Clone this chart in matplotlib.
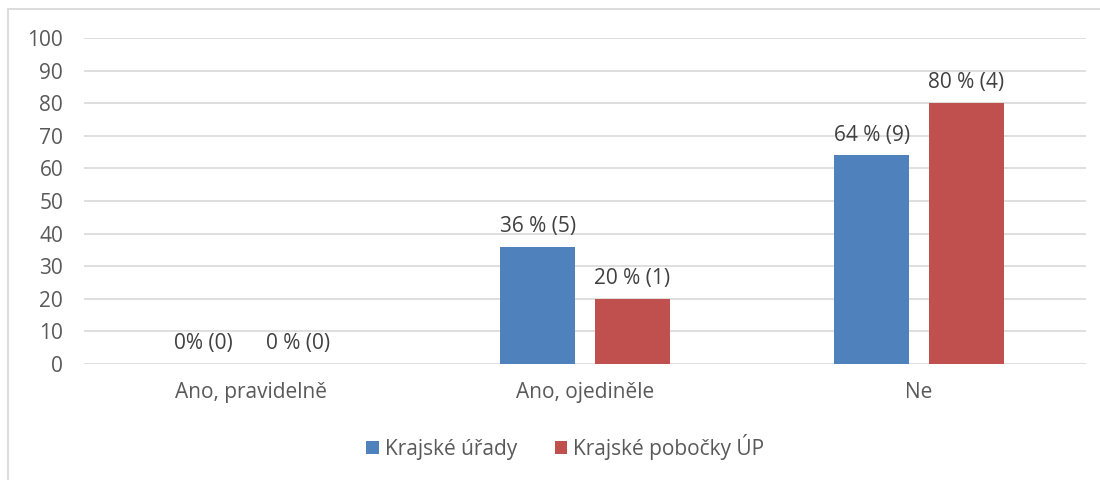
import matplotlib
matplotlib.use("Agg")
import matplotlib.pyplot as plt          # noqa: E402
from matplotlib.patches import Rectangle  # noqa: E402
import numpy as np                       # noqa: E402

categories = ["Ano, pravidelně", "Ano, ojediněle", "Ne"]
series = ["Krajské úřady", "Krajské pobočky ÚP"]
kraj_urady = [0, 36, 64]
kraj_pobocky = [0, 20, 80]
labels_urady = ["0% (0)", "36 % (5)", "64 % (9)"]
labels_pobocky = ["0 % (0)", "20 % (1)", "80 % (4)"]

plt.rcParams["font.family"] = ["Open Sans", "DejaVu Sans"]
FS = 15

fig = plt.figure(figsize=(11, 4.8), dpi=100)
# chart frame
fig.patches.append(Rectangle((8 / 1100, -0.1), 1.2, 1.1 - 9 / 480,
                             transform=fig.transFigure, fill=False,
                             edgecolor="#D9D9D9", lw=1.3))

ax = fig.add_axes([84 / 1100, 116 / 480, 1002 / 1100, 326 / 480])
x = np.arange(len(categories))
w, off = 0.225, 0.142
colors = ["#4F81BD", "#C0504D"]
for vals, labs, dx, col, name in [(kraj_urady, labels_urady, -off, colors[0], series[0]),
                                  (kraj_pobocky, labels_pobocky, off, colors[1], series[1])]:
    bars = ax.bar(x + dx, vals, w, color=col, label=name, zorder=3)
    for b, lab in zip(bars, labs):
        ax.annotate(lab, (b.get_x() + b.get_width() / 2, b.get_height()),
                    xytext=(0, 7), textcoords="offset points",
                    ha="center", va="bottom", fontsize=FS, color="#404040")

ax.set_xlim(-0.5, 2.5)
ax.set_ylim(0, 100)
ax.set_yticks(range(0, 101, 10))
ax.set_xticks(x)
ax.set_xticklabels(categories)
ax.tick_params(axis="both", length=0, labelsize=FS, colors="#595959")
ax.tick_params(axis="x", pad=13)
ax.tick_params(axis="y", pad=15)
ax.grid(axis="y", color="#D9D9D9", lw=1.2, zorder=0)
for s in ax.spines.values():
    s.set_visible(False)

fig.legend(loc="center", bbox_to_anchor=(0.514, 0.069), ncol=2, frameon=False,
           fontsize=FS, labelcolor="#595959", handlelength=0.6, handleheight=0.6,
           handletextpad=0.3, columnspacing=1.8)

fig.savefig("out.png", dpi=100)
